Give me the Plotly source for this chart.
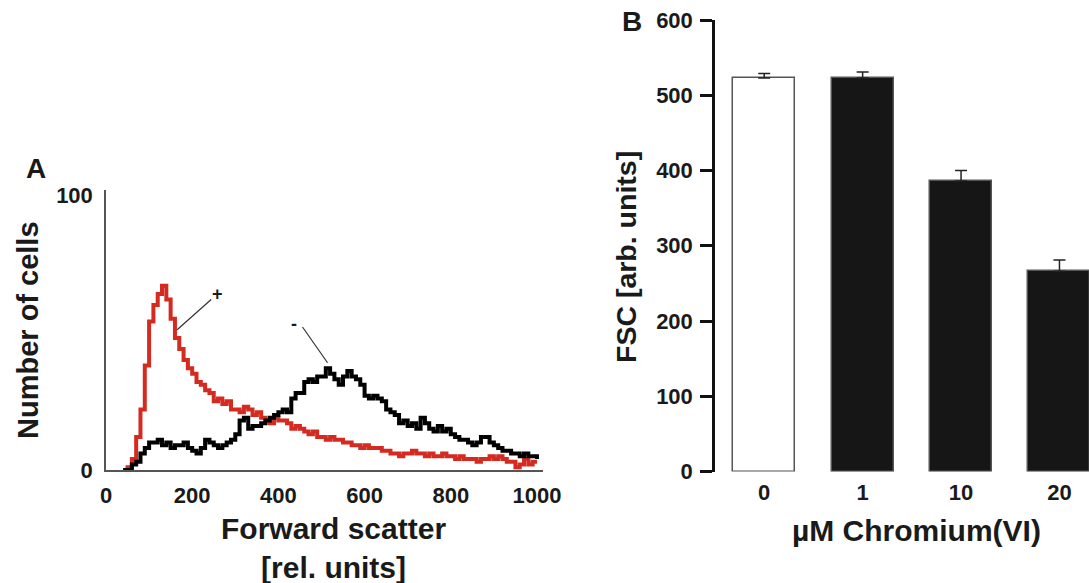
import plotly.graph_objects as go

W, H = 1089, 583

# ---------------- Panel A data: forward scatter histograms ----------------
FSC_BINS = [40, 50, 60, 70, 80, 90, 100, 110, 120, 130,
            140, 150, 160, 170, 180, 190, 200, 210, 220, 230,
            240, 250, 260, 270, 280, 290, 300, 310, 320, 330,
            340, 350, 360, 370, 380, 390, 400, 410, 420, 430,
            440, 450, 460, 470, 480, 490, 500, 510, 520, 530,
            540, 550, 560, 570, 580, 590, 600, 610, 620, 630,
            640, 650, 660, 670, 680, 690, 700, 710, 720, 730,
            740, 750, 760, 770, 780, 790, 800, 810, 820, 830,
            840, 850, 860, 870, 880, 890, 900, 910, 920, 930,
            940, 950, 960, 970, 980, 990, 1000]

COUNTS_CHROMIUM = [0, 1, 4, 12, 22, 38, 54, 60, 64, 67,
                   62, 55, 48, 44, 40, 37, 35, 32, 31, 29,
                   28, 25, 26, 24, 25, 22, 22, 21, 23, 22,
                   20, 21, 19, 18, 17, 19, 18, 18, 17, 15,
                   16, 15, 14, 13, 14, 12, 12, 11, 12, 11,
                   11, 10, 10, 9, 9, 8, 9, 8, 8, 8,
                   7, 7, 6, 6, 5, 6, 6, 7, 6, 6,
                   5, 6, 5, 5, 6, 5, 5, 4, 5, 4,
                   4, 4, 3, 4, 4, 5, 4, 5, 4, 3,
                   3, 1, 2, 4, 2, 3, 3]

COUNTS_CONTROL = [0, 0, 2, 3, 6, 8, 10, 10, 11, 9,
                  10, 8, 9, 9, 10, 8, 7, 6, 8, 11,
                  10, 9, 8, 9, 10, 11, 13, 18, 19, 15,
                  16, 16, 17, 18, 19, 20, 21, 22, 21, 26,
                  28, 28, 32, 33, 32, 34, 34, 37, 35, 33,
                  31, 34, 36, 34, 33, 31, 27, 26, 27, 26,
                  25, 22, 21, 20, 17, 18, 16, 17, 15, 19,
                  17, 15, 14, 16, 14, 15, 13, 12, 11, 11,
                  10, 9, 10, 12, 12, 10, 9, 8, 7, 7,
                  6, 6, 5, 6, 5, 5, 4]

X_TICKS_A = [0, 200, 400, 600, 800, 1000]
Y_TICKS_A = [0, 100]

# ---------------- Panel B data: FSC bar chart ----------------
CONC_LABELS = ["0", "1", "10", "20"]
FSC_MEAN = [523, 523, 386, 266]
FSC_SEM = [6, 8, 14, 15]
SIGNIF = ["", "", "***", "***"]
Y_TICKS_B = [0, 100, 200, 300, 400, 500, 600]

FONT = "Liberation Sans, Arial, Helvetica, sans-serif"
TXT = "#1a1a1a"


def px_x(p):
    return p / W


def px_y(p):
    return 1 - p / H


fig = go.Figure()

fig.add_trace(go.Scatter(x=FSC_BINS, y=COUNTS_CHROMIUM, mode="lines",
                         line=dict(color="#d42a20", width=4, shape="hv"),
                         xaxis="x", yaxis="y", showlegend=False))
fig.add_trace(go.Scatter(x=FSC_BINS, y=COUNTS_CONTROL, mode="lines",
                         line=dict(color="#000000", width=4, shape="hv"),
                         xaxis="x", yaxis="y", showlegend=False))

fig.add_trace(go.Bar(x=CONC_LABELS, y=FSC_MEAN, width=0.63,
                     marker=dict(color=["#ffffff", "#161616", "#161616", "#161616"],
                                 line=dict(color="#555555", width=1.5)),
                     error_y=dict(type="data", symmetric=False, array=FSC_SEM,
                                  arrayminus=[0] * len(FSC_SEM),
                                  color="#222222", thickness=1.5, width=6),
                     xaxis="x2", yaxis="y2", showlegend=False))


def note(x, y, text, size, xref="paper", yref="paper", angle=0):
    return dict(x=x, y=y, xref=xref, yref=yref, text=text, textangle=angle,
                showarrow=False, xanchor="center", yanchor="middle",
                font=dict(family=FONT, size=size, color=TXT))


annotations = []
for lab, m, s, sig in zip(CONC_LABELS, FSC_MEAN, FSC_SEM, SIGNIF):
    if sig:
        annotations.append(note(lab, m + s + 26, sig, 15, "x2", "y2"))

# curve labels with leader lines (panel A)
annotations.append(note(258, 64, "<b>+</b>", 18, "x", "y"))
annotations.append(note(437, 53, "<b>-</b>", 18, "x", "y"))
shapes = [
    dict(type="line", xref="x", yref="y", x0=165, y0=51, x1=244, y1=62,
         line=dict(color="#333333", width=1.2)),
    dict(type="line", xref="x", yref="y", x0=456, y0=52, x1=514, y1=39,
         line=dict(color="#333333", width=1.2)),
]

# panel letters and axis titles
annotations += [
    note(px_x(36), px_y(168), "<b>A</b>", 28),
    note(px_x(632), px_y(22), "<b>B</b>", 28),
    note(px_x(28), px_y(330), "<b>Number of cells</b>", 29, angle=-90),
    note(px_x(333), px_y(548), "<b>Forward scatter</b><br><b>[rel. units]</b>", 30),
    note(px_x(626), px_y(257), "<b>FSC [arb. units]</b>", 28.5, angle=-90),
    note(px_x(916), px_y(530), "<b>µM Chromium(VI)</b>", 30),
]

fig.update_layout(
    width=W, height=H,
    margin=dict(l=0, r=0, t=0, b=0, autoexpand=False),
    paper_bgcolor="white", plot_bgcolor="white",
    font=dict(family=FONT, color=TXT),
    annotations=annotations, shapes=shapes,
    bargap=0,
    xaxis=dict(domain=[px_x(106), px_x(543)], range=[0, 1014],
               tickvals=X_TICKS_A, ticktext=[f"<b>{v}</b>" for v in X_TICKS_A],
               showline=True, linecolor="#555555", linewidth=1.5,
               showgrid=False, zeroline=False, ticks="", automargin=False,
               ticklabelstandoff=5,
               tickfont=dict(family=FONT, size=22, color=TXT),
               anchor="y"),
    yaxis=dict(domain=[px_y(470), px_y(190)], range=[0, 101.8],
               tickvals=Y_TICKS_A, ticktext=[f"<b>{v}</b>" for v in Y_TICKS_A],
               showline=True, linecolor="#555555", linewidth=1.5,
               showgrid=False, zeroline=False, ticks="", automargin=False,
               ticklabelstandoff=7,
               tickfont=dict(family=FONT, size=22, color=TXT),
               anchor="x"),
    xaxis2=dict(domain=[px_x(715), 1.0], range=[-0.5, 3.3], type="category",
                showline=False, showgrid=False, zeroline=False, ticks="", automargin=False,
                ticktext=[f"<b>{c}</b>" for c in CONC_LABELS], tickvals=CONC_LABELS,
                ticklabelstandoff=5,
                tickfont=dict(family=FONT, size=22, color=TXT),
                anchor="y2"),
    yaxis2=dict(domain=[px_y(471.5), px_y(20)], range=[0, 600],
                tickvals=Y_TICKS_B, ticktext=[f"<b>{v}</b>" for v in Y_TICKS_B],
                showline=True, linecolor="#111111", linewidth=2.5,
                ticks="outside", ticklen=12, tickwidth=2.5, tickcolor="#111111",
                showgrid=False, zeroline=False, automargin=False,
                ticklabelstandoff=3,
                tickfont=dict(family=FONT, size=22, color=TXT),
                anchor="x2"),
)

fig.write_html("out.html", config={"displayModeBar": False},
               post_script="document.body.style.margin='0';document.body.style.overflow='hidden';")
